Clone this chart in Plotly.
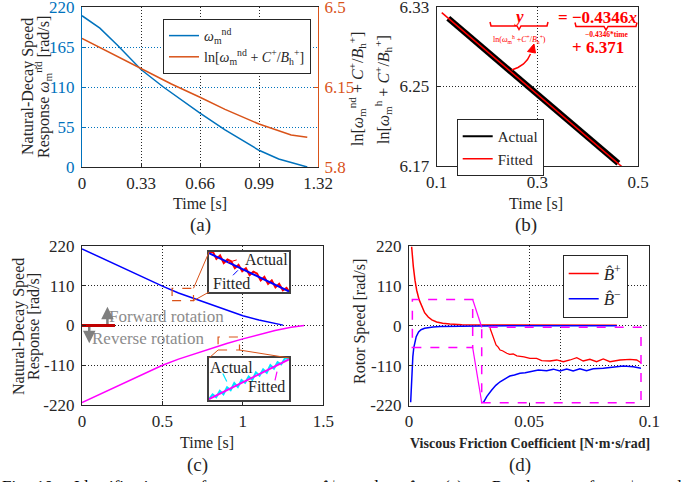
import plotly.graph_objects as go

W, H = 681, 482
FONT = "Liberation Serif, DejaVu Serif, serif"
INK = "#262626"
MBLUE = "#0072BD"
MORANGE = "#D95319"
GRAYTXT = "#8c8c8c"
DOT = "1px,2px"


def px(x):
    return x / W


def py(y):
    return 1 - y / H


# ---------------- data ----------------
# (a) natural-decay response and its log transform
a_time = [0, 0.1, 0.2, 0.33, 0.455, 0.55, 0.66, 0.8, 0.9, 0.99, 1.1, 1.18, 1.26]
a_speed = [208, 191, 167, 134, 110, 93, 74, 51, 36, 23, 11, 5, 0]
a_ln_time = [0, 0.1, 0.2, 0.33, 0.5, 0.66, 0.8, 0.99, 1.1, 1.17, 1.26]
a_ln_value = [6.363, 6.323, 6.283, 6.232, 6.163, 6.105, 6.052, 5.988, 5.958, 5.940, 5.930]
a_xticks = [0, 0.33, 0.66, 0.99, 1.32]
a_xtext = ["0", "0.33", "0.66", "0.99", "1.32"]
a_yticks = [0, 55, 110, 165, 220]
a_y2ticks = [5.8, 6.15, 6.5]
a_y2text = ["5.8", "6.15", "6.5"]

# (b) linear fit
b_actual_time = [0.123, 0.2, 0.3, 0.4, 0.461]
b_actual_value = [6.3186, 6.2852, 6.2425, 6.1995, 6.1727]
b_fit_time = [0.11, 0.468]
b_fit_value = [6.3243, 6.1693]
b_xticks = [0.1, 0.3, 0.5]
b_yticks = [6.17, 6.25, 6.33]

# (c) forward / reverse natural decay
c_pos_time = [0, 0.1, 0.2, 0.3, 0.4, 0.5, 0.6, 0.7, 0.8, 0.9, 1.0, 1.1, 1.2, 1.25]
c_pos_speed = [212, 191, 171, 151, 129, 109, 90, 74, 58, 41, 27, 15, 5, 1]
c_neg_time = [0, 0.1, 0.2, 0.3, 0.4, 0.5, 0.6, 0.7, 0.8, 0.9, 1.0, 1.1, 1.2, 1.3, 1.38]
c_neg_speed = [-213, -192, -172, -152, -130, -110, -93, -78, -64, -50, -37, -25, -14, -5, 0]
c_mark_time = [0, 0.205]
c_mark_speed = [0, 0]
c_xticks = [0, 0.5, 1, 1.5]
c_xtext = ["0", "0.5", "1", "1.5"]
c_yticks = [-220, -110, 0, 110, 220]
c_ytext = ["-220", "-110", "0", "110", "220"]
# inset: forward zoom
c_in1_time = [0.560, 0.566, 0.572, 0.578, 0.584, 0.590, 0.596, 0.602, 0.608, 0.614, 0.620, 0.626,
              0.632, 0.638, 0.644, 0.650, 0.656, 0.662, 0.668, 0.674, 0.680, 0.686, 0.690]
c_in1_actual = [102.5, 104.0, 97.5, 100.5, 94.0, 97.0, 95.5, 89.5, 92.5, 87.0, 89.5, 83.5,
                86.5, 85.0, 79.0, 82.0, 76.0, 79.0, 73.0, 76.0, 70.5, 72.5, 69.5]
c_in1_fit_time = [0.56, 0.69]
c_in1_fit = [102.5, 69.5]
# inset: reverse zoom
c_in2_time = [0.846, 0.852, 0.858, 0.864, 0.870, 0.876, 0.882, 0.888, 0.894, 0.900, 0.906, 0.912,
              0.918, 0.924, 0.930, 0.936, 0.942, 0.948, 0.954, 0.960, 0.966, 0.972, 0.979]
c_in2_actual = [-67.0, -62.9, -65.4, -59.8, -62.8, -56.7, -59.2, -53.1, -56.6, -50.5, -52.9, -47.4,
                -50.3, -43.8, -46.7, -41.2, -44.1, -37.6, -40.5, -35.0, -36.9, -31.8, -31.5]
c_in2_fit_time = [0.846, 0.979]
c_in2_fit = [-67.0, -32.5]

# (d) estimated viscous friction
d_pos_coef = [0.0011, 0.0014, 0.0018, 0.0025, 0.0032, 0.0042, 0.0053, 0.0065, 0.008, 0.0095,
              0.0115, 0.014, 0.017, 0.022, 0.03, 0.05, 0.07, 0.0865]
d_pos_speed = [218, 190, 163, 125, 98, 72, 52, 36, 24, 16, 10.5, 7, 5, 3, 2, 1.5, 1.5, 1.5]
d_neg_coef = [0.0007, 0.0009, 0.0012, 0.0016, 0.002, 0.0025, 0.003, 0.004, 0.005, 0.0065,
              0.008, 0.01, 0.013, 0.02, 0.03, 0.05, 0.07, 0.0865]
d_neg_speed = [-211, -170, -125, -85, -60, -42, -30, -17, -11, -7, -5, -3.5, -2, -1, -0.5, 0, 0, 0]
d_xticks = [0, 0.05, 0.1]
d_xtext = ["0", "0.05", "0.1"]
# inset (zoomed region)
d_in_pos_coef = [0.0338, 0.0352, 0.0363, 0.0372, 0.0380, 0.0390, 0.0400, 0.0408, 0.0420, 0.0435,
                 0.0450, 0.0463, 0.0480, 0.0505, 0.0533, 0.0554, 0.0589, 0.0617, 0.0645, 0.0673,
                 0.0701, 0.0728, 0.0756, 0.0784, 0.0812, 0.0840, 0.0882, 0.0924, 0.0952, 0.0970]
d_in_pos_speed = [-7.8, -31, -54, -60, -68, -70, -75, -77, -80, -79, -84, -84.6, -87, -91, -91,
                  -97.6, -98.4, -95.6, -100.4, -95.6, -89, -98.4, -93.7, -100.4, -92.9, -100.4,
                  -95.6, -93.7, -95.6, -103]
d_in_neg_coef = [0.0310, 0.0324, 0.0345, 0.0362, 0.0380, 0.0400, 0.0421, 0.0440, 0.0463, 0.0485,
                 0.0505, 0.0540, 0.0575, 0.0603, 0.0631, 0.0659, 0.0686, 0.0714, 0.0742, 0.0770,
                 0.0812, 0.0854, 0.0896, 0.0938, 0.0970]
d_in_neg_speed = [-214, -197, -179, -166, -156, -147, -140, -137, -132.5, -131, -128, -123.4,
                  -125.3, -121, -126, -120.6, -126, -119.8, -125.3, -119.8, -118.7, -115.9,
                  -112.3, -114.2, -118.7]

# caption words (only the top of this line is visible in the figure)
caption_words = ["Fig.", "10.", "Identification", "of", "parameter", "<i>B̂</i><sup>+</sup>", "and",
                 "<i>B̂</i><sup>−</sup>.", "(a)", "Results", "of", "<i>ω</i><sup>+</sup>", "and"]
caption_x = [0, 34, 72, 190, 226, 318, 352, 405, 442, 490, 578, 615, 655]

# ---------------- figure ----------------
fig = go.Figure()

# (a)
fig.add_trace(go.Scatter(x=a_time, y=a_speed, mode="lines", line=dict(color=MBLUE, width=1.5),
                         name="<i>ω</i><sub>m</sub><sup>nd</sup>", xaxis="x", yaxis="y", legend="legend"))
fig.add_trace(go.Scatter(x=a_ln_time, y=a_ln_value, mode="lines", line=dict(color=MORANGE, width=1.5),
                         name="ln[<i>ω</i><sub>m</sub><sup>nd</sup> + <i>C</i><sup>+</sup>/<i>B</i><sub>h</sub><sup>+</sup>]",
                         xaxis="x", yaxis="y2", legend="legend"))

# (b)
fig.add_trace(go.Scatter(x=b_actual_time, y=b_actual_value, mode="lines", line=dict(color="black", width=6),
                         showlegend=False, xaxis="x2", yaxis="y3"))
fig.add_trace(go.Scatter(x=b_fit_time, y=b_fit_value, mode="lines", line=dict(color="red", width=1.5),
                         showlegend=False, xaxis="x2", yaxis="y3"))
fig.add_trace(go.Scatter(x=[None], y=[None], mode="lines", line=dict(color="black", width=2),
                         name="Actual", xaxis="x2", yaxis="y3", legend="legend2"))
fig.add_trace(go.Scatter(x=[None], y=[None], mode="lines", line=dict(color="red", width=1.5),
                         name="Fitted", xaxis="x2", yaxis="y3", legend="legend2"))

# (c)
fig.add_trace(go.Scatter(x=c_pos_time, y=c_pos_speed, mode="lines", line=dict(color="#0000FF", width=1.5),
                         showlegend=False, xaxis="x3", yaxis="y4"))
fig.add_trace(go.Scatter(x=c_neg_time, y=c_neg_speed, mode="lines", line=dict(color="#FF00FF", width=1.5),
                         showlegend=False, xaxis="x3", yaxis="y4"))
fig.add_trace(go.Scatter(x=c_mark_time, y=c_mark_speed, mode="lines", line=dict(color="#C00000", width=3),
                         showlegend=False, xaxis="x3", yaxis="y4"))
# (c) insets
fig.add_trace(go.Scatter(x=c_in1_time, y=c_in1_actual, mode="lines", line=dict(color="red", width=2),
                         showlegend=False, xaxis="x5", yaxis="y6"))
fig.add_trace(go.Scatter(x=c_in1_fit_time, y=c_in1_fit, mode="lines", line=dict(color="#0000FF", width=2),
                         showlegend=False, xaxis="x5", yaxis="y6"))
fig.add_trace(go.Scatter(x=c_in2_time, y=c_in2_actual, mode="lines", line=dict(color="#00E5FF", width=2),
                         showlegend=False, xaxis="x6", yaxis="y7"))
fig.add_trace(go.Scatter(x=c_in2_fit_time, y=c_in2_fit, mode="lines", line=dict(color="#FF00FF", width=2),
                         showlegend=False, xaxis="x6", yaxis="y7"))

# (d)
fig.add_trace(go.Scatter(x=d_pos_coef, y=d_pos_speed, mode="lines", line=dict(color="red", width=1.5),
                         name="<i>B̂</i><sup>+</sup>", xaxis="x4", yaxis="y5", legend="legend3"))
fig.add_trace(go.Scatter(x=d_neg_coef, y=d_neg_speed, mode="lines", line=dict(color="#0000FF", width=1.5),
                         name="<i>B̂</i><sup>−</sup>", xaxis="x4", yaxis="y5", legend="legend3"))
fig.add_trace(go.Scatter(x=d_in_pos_coef, y=d_in_pos_speed, mode="lines", line=dict(color="red", width=1.3),
                         showlegend=False, xaxis="x7", yaxis="y8"))
fig.add_trace(go.Scatter(x=d_in_neg_coef, y=d_in_neg_speed, mode="lines", line=dict(color="#0000FF", width=1.5),
                         showlegend=False, xaxis="x7", yaxis="y8"))

tickfont = dict(family=FONT, size=17, color=INK)


def main_axis(**kw):
    d = dict(showline=True, linecolor=INK, linewidth=1.2, mirror=True, zeroline=False,
             showgrid=True, gridcolor=INK, griddash=DOT, gridwidth=1, automargin=False,
             ticklabeloverflow="allow",
             ticks="inside", ticklen=4, tickcolor=INK, tickfont=tickfont, fixedrange=True)
    d.update(kw)
    return d


def inset_axis(**kw):
    d = dict(showline=True, linecolor="#404040", linewidth=2, mirror=True, zeroline=False,
             showgrid=False, showticklabels=False, ticks="", automargin=False)
    d.update(kw)
    return d


fig.update_layout(
    width=W, height=H,
    margin=dict(l=0, r=0, t=0, b=0, pad=0, autoexpand=False),
    paper_bgcolor="white", plot_bgcolor="white",
    font=dict(family=FONT, color=INK),
    # (a)
    xaxis=main_axis(domain=[px(82), px(318)], range=[0, 1.32], anchor="y",
                    tickvals=a_xticks, ticktext=a_xtext),
    yaxis=main_axis(domain=[py(167), py(7)], range=[0, 220], anchor="x", mirror=False,
                    tickvals=a_yticks, linecolor=MBLUE, gridcolor=MBLUE, tickcolor=MBLUE,
                    ticklabelstandoff=3,
                    tickfont=dict(family=FONT, size=17, color=MBLUE)),
    yaxis2=main_axis(overlaying="y", side="right", anchor="x", range=[5.8, 6.5], mirror=False,
                     showgrid=False, tickvals=a_y2ticks, ticktext=a_y2text,
                     linecolor=MORANGE, tickcolor=MORANGE, ticklabelstandoff=2,
                     tickfont=dict(family=FONT, size=17, color=MORANGE)),
    # (b)
    xaxis2=main_axis(domain=[px(436.7), px(638)], range=[0.1, 0.5], anchor="y3",
                     tickvals=b_xticks, ticktext=["0.1", "0.3", "0.5"]),
    yaxis3=main_axis(domain=[py(166), py(7)], range=[6.17, 6.33], anchor="x2", ticklabelstandoff=3,
                     tickvals=b_yticks, ticktext=["6.17", "6.25", "6.33"]),
    # (c)
    xaxis3=main_axis(domain=[px(82), px(323.3)], range=[0, 1.5], anchor="y4",
                     tickvals=c_xticks, ticktext=c_xtext),
    yaxis4=main_axis(domain=[py(405), py(246)], range=[-220, 220], anchor="x3", ticklabelstandoff=3,
                     tickvals=c_yticks, ticktext=c_ytext),
    # (d)
    xaxis4=main_axis(domain=[px(409), px(649.3)], range=[0, 0.1], anchor="y5",
                     tickvals=d_xticks, ticktext=d_xtext),
    yaxis5=main_axis(domain=[py(405.5), py(246)], range=[-220, 220], anchor="x4", ticklabelstandoff=3,
                     tickvals=c_yticks, ticktext=c_ytext),
    # insets
    xaxis5=inset_axis(domain=[px(209), px(289)], range=[0.56, 0.69], anchor="y6"),
    yaxis6=inset_axis(domain=[py(292), py(252)], range=[69, 103.5], anchor="x5"),
    xaxis6=inset_axis(domain=[px(209), px(289)], range=[0.846, 0.979], anchor="y7"),
    yaxis7=inset_axis(domain=[py(400), py(358)], range=[-67.8, -31.3], anchor="x6"),
    xaxis7=inset_axis(domain=[px(481.7), px(641)], range=[0.0303, 0.097], anchor="y8",
                      showline=False, showgrid=True, gridcolor=INK, griddash=DOT,
                      tickvals=[0.0633]),
    yaxis8=inset_axis(domain=[py(402.7), py(327.3)], range=[-214, -5], anchor="x7",
                      showline=False, showgrid=True, gridcolor=INK, griddash=DOT,
                      tickvals=[-110]),
    legend=dict(x=px(163), y=py(19), xanchor="left", yanchor="top", bgcolor="white",
                bordercolor=INK, borderwidth=1, font=dict(family=FONT, size=14, color=INK),
                tracegroupgap=0),
    legend2=dict(x=px(456.7), y=py(119), xanchor="left", yanchor="top", bgcolor="white",
                 bordercolor=INK, borderwidth=1, font=dict(family=FONT, size=15, color=INK)),
    legend3=dict(x=px(562.7), y=py(255), xanchor="left", yanchor="top", bgcolor="white",
                 bordercolor=INK, borderwidth=1, font=dict(family=FONT, size=17, color=INK)),
)

ann = []


def txt(text, x, y, size=16, color=INK, angle=0, xanchor="center", yanchor="middle", **kw):
    d = dict(text=text, x=px(x), y=py(y), xref="paper", yref="paper", showarrow=False,
             font=dict(family=FONT, size=size, color=color), textangle=angle,
             xanchor=xanchor, yanchor=yanchor)
    d.update(kw)
    ann.append(d)


# axis titles (a)
txt("Natural-Decay Speed", 28, 87, size=16, angle=-90)
txt("Response <i>ω</i><sub>m</sub><sup>nd</sup> [rad/s]", 43, 87, size=16, angle=-90)
txt("ln[<i>ω</i><sub>m</sub><sup>nd</sup> + <i>C</i><sup>+</sup>/<i>B</i><sub>h</sub><sup>+</sup>]",
    357, 89, size=16, angle=-90)
txt("Time [s]", 200, 203, size=16)
txt("(a)", 200, 225, size=19)
# (b)
txt("ln[<i>ω</i><sub>m</sub><sup>h</sup> + <i>C</i><sup>+</sup>/<i>B</i><sub>h</sub><sup>+</sup>]",
    383, 90, size=16, angle=-90)
txt("Time [s]", 536, 203, size=16)
txt("(b)", 526, 225, size=19)
txt("<b><i>y</i></b>", 519, 17, size=17, color="red")
txt("<b>= −0.4346<i>x</i></b>", 597, 18, size=17, color="red")
txt("ln(<i>ω</i><sub>m</sub><sup>h</sup> +<i>C</i><sup>+</sup>/<i>B</i><sub>h</sub><sup>+</sup>)",
    519, 39, size=8, color="red")
txt("<b>−0.4346*time</b>", 606, 35, size=7.5, color="red")
txt("<b>+ 6.371</b>", 598, 48, size=17, color="red")
# (c)
txt("Natural-Decay Speed", 19, 327, size=16, angle=-90)
txt("Response [rad/s]", 34, 327, size=16, angle=-90)
txt("Time [s]", 207, 442, size=16)
txt("(c)", 197, 465, size=19)
# (d)
txt("Rotor Speed [rad/s]", 360, 322, size=16, angle=-90)
txt("<b>Viscous Friction Coefficient [N·m·s/rad]</b>", 530, 443, size=14)
txt("(d)", 520, 465, size=19)
# caption line, cut by the bottom edge as in the source
for w, x in zip(caption_words, caption_x):
    txt(w, x, 475, size=17, color="black", xanchor="left", yanchor="top")

# (c) text and arrows in data coordinates
ann.append(dict(text="Forward rotation", x=0.523, y=26, xref="x3", yref="y4", showarrow=False,
                font=dict(family=FONT, size=17, color=GRAYTXT)))
ann.append(dict(text="Reverse rotation", x=0.408, y=-37, xref="x3", yref="y4", showarrow=False,
                font=dict(family=FONT, size=17, color=GRAYTXT)))
ann.append(dict(text="", x=0.158, y=52, ax=0.158, ay=0, xref="x3", yref="y4", axref="x3", ayref="y4",
                showarrow=True, arrowhead=2, arrowsize=1, arrowwidth=2.5, arrowcolor="#7f7f7f"))
ann.append(dict(text="", x=0.045, y=-49, ax=0.045, ay=0, xref="x3", yref="y4", axref="x3", ayref="y4",
                showarrow=True, arrowhead=2, arrowsize=1, arrowwidth=2.5, arrowcolor="#7f7f7f"))
# inset labels
ann.append(dict(text="Actual", x=0.6537, y=97, xref="x5", yref="y6", showarrow=False,
                font=dict(family=FONT, size=16, color=INK)))
ann.append(dict(text="Fitted", x=0.597, y=76.5, xref="x5", yref="y6", showarrow=False,
                font=dict(family=FONT, size=16, color=INK)))
ann.append(dict(text="Actual", x=0.8837, y=-39.9, xref="x6", yref="y7", showarrow=False,
                font=dict(family=FONT, size=16, color=INK)))
ann.append(dict(text="Fitted", x=0.942, y=-56.2, xref="x6", yref="y7", showarrow=False,
                font=dict(family=FONT, size=16, color=INK)))
fig.update_layout(annotations=ann)

shapes = []
# (c) zoom source boxes and connectors
shapes.append(dict(type="rect", xref="x3", yref="y4", x0=0.56, x1=0.693, y0=68.6, y1=103,
                   line=dict(color=MORANGE, width=1.2, dash="dash")))
shapes.append(dict(type="line", xref="x3", yref="y4", x0=0.693, y0=103, x1=0.790, y1=203.4,
                   line=dict(color=MORANGE, width=1)))
shapes.append(dict(type="line", xref="x3", yref="y4", x0=0.693, y0=68.6, x1=0.790, y1=92.7,
                   line=dict(color=MORANGE, width=1)))
shapes.append(dict(type="rect", xref="x3", yref="y4", x0=0.846, x1=0.979, y0=-67.8, y1=-31.8,
                   line=dict(color=MORANGE, width=1.2, dash="dash")))
shapes.append(dict(type="line", xref="x3", yref="y4", x0=0.846, y0=-67.8, x1=0.790, y1=-89.9,
                   line=dict(color=MORANGE, width=1)))
shapes.append(dict(type="line", xref="x3", yref="y4", x0=0.979, y0=-67.8, x1=1.288, y1=-89.9,
                   line=dict(color=MORANGE, width=1)))
# inset pointer lines
shapes.append(dict(type="line", xref="x5", yref="y6", x0=0.591, y0=94.5, x1=0.6185, y1=98.75,
                   line=dict(color="red", width=1, dash="dash")))
shapes.append(dict(type="line", xref="x5", yref="y6", x0=0.599, y0=83.45, x1=0.607, y1=87.7,
                   line=dict(color="#0000FF", width=1, dash="dash")))
shapes.append(dict(type="line", xref="x6", yref="y7", x0=0.869, y0=-44.7, x1=0.881, y1=-57.6,
                   line=dict(color="#00E5FF", width=1.2, dash="dash")))
shapes.append(dict(type="line", xref="x6", yref="y7", x0=0.9557, y0=-50.7, x1=0.9607, y1=-39.3,
                   line=dict(color="#FF00FF", width=1.2, dash="dash")))
# (d) zoom box, connectors, inset frame
shapes.append(dict(type="rect", xref="x4", yref="y5", x0=0.0014, x1=0.0265, y0=-60.3, y1=72.5,
                   line=dict(color="#FF00FF", width=1.5, dash="dash")))
shapes.append(dict(type="line", xref="x4", yref="y5", x0=0.0265, y0=72.5, x1=0.0303, y1=-5.0,
                   line=dict(color="#FF00FF", width=1.2)))
shapes.append(dict(type="line", xref="x4", yref="y5", x0=0.0265, y0=-60.3, x1=0.0303, y1=-213.6,
                   line=dict(color="#FF00FF", width=1.2)))
shapes.append(dict(type="rect", xref="x7 domain", yref="y8 domain", x0=0, x1=1, y0=0, y1=1,
                   line=dict(color="#FF00FF", width=1.5, dash="dash")))


def path(points, close=False):
    s = "M " + " L ".join(f"{px(a):.5f},{py(b):.5f}" for a, b in points)
    return s + (" Z" if close else "")


# (b) underbraces
shapes.append(dict(type="path", xref="paper", yref="paper",
                   path=path([(490, 22), (491, 26), (517, 26), (519, 29.5), (521, 26), (547, 26), (548, 22)]),
                   line=dict(color="red", width=1.5)))
shapes.append(dict(type="path", xref="paper", yref="paper",
                   path=path([(575, 22.5), (576, 26.5), (604, 26.5), (606, 30), (608, 26.5), (636, 26.5),
                              (637, 22.5)]),
                   line=dict(color="red", width=1.5)))
# (b) curved arrow
curve = [(511.7, 70), (518, 67.5), (523.5, 64), (527.5, 59.5), (530.5, 54)]
shapes.append(dict(type="path", xref="paper", yref="paper", path=path(curve),
                   line=dict(color="red", width=1.5)))
shapes.append(dict(type="path", xref="paper", yref="paper",
                   path=path([(534, 44), (527.5, 51.5), (535.5, 53)], close=True),
                   fillcolor="red", line=dict(color="red", width=1)))
fig.update_layout(shapes=shapes)

fig.write_html("out.html")
